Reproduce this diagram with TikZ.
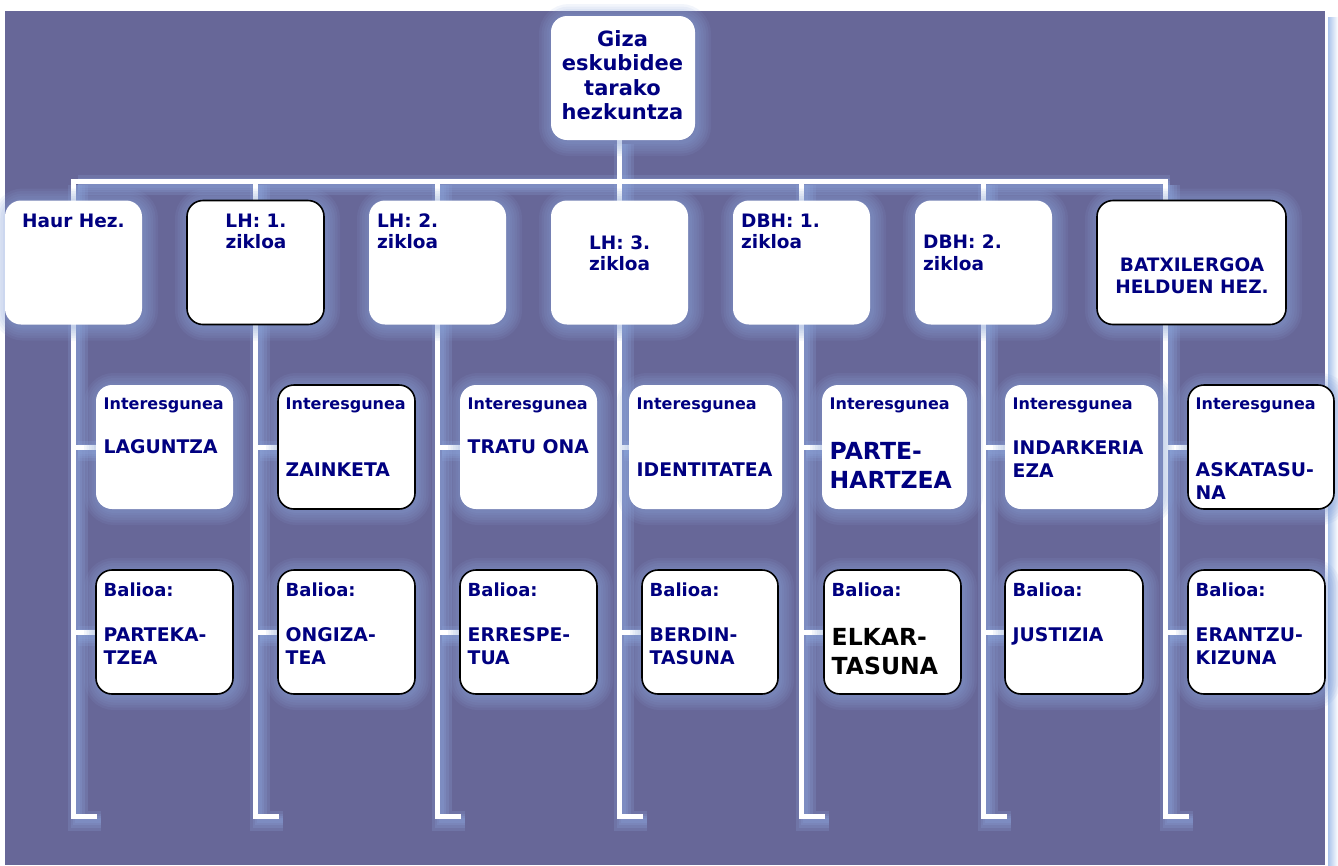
\documentclass[tikz,border=0pt]{standalone}
\usepackage{fontspec}
\setmainfont{DejaVu Sans}
\definecolor{bgc}{RGB}{103,103,152}
\definecolor{navy}{RGB}{0,0,128}
\definecolor{glowc}{RGB}{140,165,218}
\definecolor{stripc}{RGB}{170,195,235}
\pgfdeclarelayer{back}
\pgfdeclarelayer{lines}
\pgfsetlayers{back,lines,main}
\tikzset{
  gl/.style={preaction={draw=glowc, line width=#1, draw opacity=0.11, transform canvas={shift={(2,2)}}}},
  bx/.style={fill=white, rounded corners=16pt, minimum height=124pt, inner sep=0pt,
    gl=28pt, gl=23pt, gl=18pt, gl=13pt, gl=8pt, gl=4pt},
  bd/.style={draw=black, line width=1.6pt},
  ln/.style={draw=white, line width=5pt, line cap=rect},
  lglow/.style={draw=glowc, line width=#1, draw opacity=0.22, line cap=butt, transform canvas={shift={(4,4)}}},
  troot/.style={text=navy, inner sep=0pt, font=\bfseries\fontsize{21}{24}\selectfont},
  tl/.style={text=navy, inner sep=0pt, font=\bfseries\fontsize{18.5}{22}\selectfont},
  th/.style={text=navy, inner sep=0pt, font=\bfseries\fontsize{16}{19}\selectfont},
  tb/.style={text=navy, inner sep=0pt, font=\bfseries\fontsize{18}{21}\selectfont},
  tv/.style={text=navy, inner sep=0pt, font=\bfseries\fontsize{18.8}{22}\selectfont},
  tbig/.style={inner sep=0pt, font=\bfseries\fontsize{23.5}{27}\selectfont},
}
\begin{document}
\begin{tikzpicture}[x=1pt,y=-1pt]
\useasboundingbox (0,0) rectangle (1338,865);
\begin{pgfonlayer}{back}
  \fill[bgc] (5,11) rectangle (1325,865);
  \shade[left color=stripc, right color=white] (1328,17) rectangle (1338,865);
\end{pgfonlayer}

% root
\node[bx, minimum width=144pt] (root) at (623,78) {};
% level 1
\node[bx, minimum width=137pt] (c1) at (73.5,262.5) {};
\node[bx, bd, minimum width=137pt] (c2) at (255.5,262.5) {};
\node[bx, minimum width=137pt] (c3) at (437.5,262.5) {};
\node[bx, minimum width=137pt] (c4) at (619.5,262.5) {};
\node[bx, minimum width=137pt] (c5) at (801.5,262.5) {};
\node[bx, minimum width=137pt] (c6) at (983.5,262.5) {};
\node[bx, bd, minimum width=189pt] (c7) at (1191.5,262.5) {};
% level 2
\node[bx, minimum width=137pt] (i1) at (164.5,447) {};
\node[bx, bd, minimum width=137pt] (i2) at (346.5,447) {};
\node[bx, minimum width=137pt] (i3) at (528.5,447) {};
\node[bx, minimum width=153pt] (i4) at (705.5,447) {};
\node[bx, minimum width=145pt] (i5) at (894.5,447) {};
\node[bx, minimum width=153pt] (i6) at (1081.5,447) {};
\node[bx, bd, minimum width=146pt] (i7) at (1261,447) {};
% level 3
\node[bx, bd, minimum width=137pt] (b1) at (164.5,632) {};
\node[bx, bd, minimum width=137pt] (b2) at (346.5,632) {};
\node[bx, bd, minimum width=137pt] (b3) at (528.5,632) {};
\node[bx, bd, minimum width=136pt] (b4) at (710,632) {};
\node[bx, bd, minimum width=137pt] (b5) at (892.5,632) {};
\node[bx, bd, minimum width=138pt] (b6) at (1074,632) {};
\node[bx, bd, minimum width=137pt] (b7) at (1256.5,632) {};

% coordinates of the tree
\coordinate (top) at (619.5,181);
\coordinate (barL) at (73.5,181);
\coordinate (barR) at (1165.5,181);
\foreach \k/\x in {1/73.5,2/255.5,3/437.5,4/619.5,5/801.5,6/983.5,7/1165.5}{
  \coordinate (v\k) at (\x,181);
  \coordinate (w\k) at (\x,816.5);
  \coordinate (e\k) at (\x+23,816.5);
}

\begin{pgfonlayer}{lines}
  \foreach \lw in {20,14,9,5}{
    \draw[lglow=\lw pt] (root.south -| top) -- (top);
    \draw[lglow=\lw pt] (barL) -- (barR);
    \foreach \k in {1,...,7}{
      \draw[lglow=\lw pt] (v\k) -- (w\k) -- (e\k);
      \draw[lglow=\lw pt] (v\k |- i\k.west) -- (i\k.west);
      \draw[lglow=\lw pt] (v\k |- b\k.west) -- (b\k.west);
    }
  }
  \draw[ln] (root.south -| top) -- (top);
  \draw[ln] (barL) -- (barR);
  \foreach \k in {1,...,7}{
    \draw[ln, line cap=butt] (v\k) -- (w\k) -- (e\k);
    \draw[ln, line cap=butt] (v\k |- i\k.west) -- (i\k.west);
    \draw[ln, line cap=butt] (v\k |- b\k.west) -- (b\k.west);
  }
\end{pgfonlayer}

% root text
\node[troot, anchor=base] (r1) at (622.5,46) {Giza};
\node[troot, anchor=base] (r2) at (622.5,70.5) {eskubidee};
\node[troot, anchor=base] (r3) at (622.5,95) {tarako};
\node[troot, anchor=base] (r4) at (622.5,119.5) {hezkuntza};

% level 1 text
\node[tl, anchor=base] (c1a) at (73.5,227) {Haur Hez.};
\node[tl, anchor=base] (c2a) at (256,227) {LH: 1.};
\node[tl, anchor=base] (c2b) at (256,248.5) {zikloa};
\node[tl, anchor=base west] (c3a) at (377,227) {LH: 2.};
\node[tl, anchor=base west] (c3b) at (377,248.5) {zikloa};
\node[tl, anchor=base west] (c4a) at (589,249) {LH: 3.};
\node[tl, anchor=base west] (c4b) at (589,270.5) {zikloa};
\node[tl, anchor=base west] (c5a) at (741,227) {DBH: 1.};
\node[tl, anchor=base west] (c5b) at (741,248.5) {zikloa};
\node[tl, anchor=base west] (c6a) at (923,248.7) {DBH: 2.};
\node[tl, anchor=base west] (c6b) at (923,270.2) {zikloa};
\node[tl, anchor=base] (c7a) at (1192,271.7) {BATXILERGOA};
\node[tl, anchor=base] (c7b) at (1192,293) {HELDUEN HEZ.};

% level 2 text
\foreach \k/\x in {1/103.5,2/285.5,3/467.5,4/636.5,5/829.5,6/1012.5,7/1195.5}{
  \node[th, anchor=base west] (ih\k) at (\x,409) {Interesgunea};
}
\node[tv, anchor=base west] (iv1) at (103.5,453) {LAGUNTZA};
\node[tv, anchor=base west] (iv2) at (285.5,476) {ZAINKETA};
\node[tv, anchor=base west] (iv3) at (467.5,453) {TRATU ONA};
\node[tv, anchor=base west] (iv4) at (636.5,476) {IDENTITATEA};
\node[tbig, text=navy, anchor=base west] (iv5a) at (829.5,459.5) {PARTE-};
\node[tbig, text=navy, anchor=base west] (iv5b) at (829.5,488.5) {HARTZEA};
\node[tv, anchor=base west] (iv6a) at (1012.5,454.5) {INDARKERIA};
\node[tv, anchor=base west] (iv6b) at (1012.5,477) {EZA};
\node[tv, anchor=base west] (iv7a) at (1195.5,476.5) {ASKATASU-};
\node[tv, anchor=base west] (iv7b) at (1195.5,499) {NA};

% level 3 text
\foreach \k/\x in {1/103.5,2/285.5,3/467.5,4/649.5,5/831.5,6/1012.5,7/1195.5}{
  \node[tb, anchor=base west] (bh\k) at (\x,596) {Balioa:};
}
\node[tv, anchor=base west] (bv1a) at (103.5,641.5) {PARTEKA-};
\node[tv, anchor=base west] (bv1b) at (103.5,664) {TZEA};
\node[tv, anchor=base west] (bv2a) at (285.5,641.5) {ONGIZA-};
\node[tv, anchor=base west] (bv2b) at (285.5,664) {TEA};
\node[tv, anchor=base west] (bv3a) at (467.5,641.5) {ERRESPE-};
\node[tv, anchor=base west] (bv3b) at (467.5,664) {TUA};
\node[tv, anchor=base west] (bv4a) at (649.5,641.5) {BERDIN-};
\node[tv, anchor=base west] (bv4b) at (649.5,664) {TASUNA};
\node[tbig, text=black, anchor=base west] (bv5a) at (831.5,645) {ELKAR-};
\node[tbig, text=black, anchor=base west] (bv5b) at (831.5,674) {TASUNA};
\node[tv, anchor=base west] (bv6) at (1012.5,641.5) {JUSTIZIA};
\node[tv, anchor=base west] (bv7a) at (1195.5,641.5) {ERANTZU-};
\node[tv, anchor=base west] (bv7b) at (1195.5,664) {KIZUNA};
\end{tikzpicture}
\end{document}
